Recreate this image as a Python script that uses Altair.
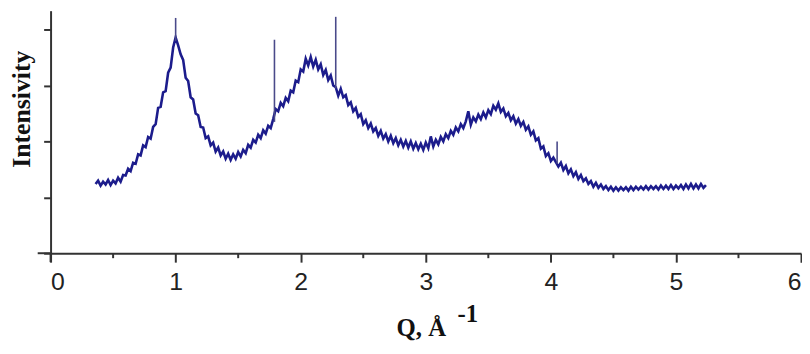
import altair as alt
import pandas as pd

# Q grid start / step (sampling positions of the measured curve)
q_start = 0.36
q_step = 0.02

# intensity (arbitrary units, 100 per y tick)
intensity = [
    124, 130, 121, 128, 123, 131, 122, 130, 125, 135,
    128, 140, 139, 151, 147, 162, 160, 177, 175, 193,
    190, 208, 205, 226, 231, 260, 262, 288, 290, 323,
    332, 368, 386, 372, 356, 346, 314, 308, 279, 275,
    250, 247, 226, 225, 206, 209, 193, 198, 182, 189,
    175, 182, 169, 178, 167, 177, 169, 181, 173, 185,
    179, 194, 189, 203, 198, 212, 206, 220, 214, 228,
    224, 240, 258, 254, 269, 263, 278, 272, 291, 288,
    309, 306, 329, 325, 348, 336, 351, 334, 346, 329,
    338, 319, 328, 310, 318, 300, 297, 282, 294, 279,
    283, 265, 270, 254, 260, 244, 249, 231, 238, 224,
    232, 218, 224, 210, 219, 205, 213, 200, 210, 197,
    206, 193, 203, 191, 201, 189, 200, 187, 197, 186,
    196, 185, 198, 188, 209, 191, 203, 195, 208, 200,
    213, 206, 219, 212, 225, 218, 231, 224, 236, 254,
    230, 243, 236, 248, 240, 252, 243, 256, 249, 264,
    257, 268, 253, 259, 245, 251, 238, 245, 232, 240,
    228, 235, 221, 227, 212, 218, 202, 206, 187, 191,
    174, 179, 165, 171, 163, 155, 162, 149, 156, 143,
    150, 138, 145, 133, 140, 129, 134, 124, 129, 119,
    126, 117, 123, 115, 120, 113, 119, 112, 118, 112,
    118, 113, 118, 112, 119, 113, 119, 114, 119, 114,
    120, 114, 120, 115, 120, 114, 121, 115, 121, 115,
    122, 115, 121, 116, 122, 115, 123, 116, 124, 116,
    123, 116, 124, 117, 122,
]
q_values = [round(q_start + q_step * i, 2) for i in range(len(intensity))]

# narrow spikes
spike_q = [1.00, 1.79, 2.28, 4.05]
spike_lo = [380, 235, 295, 160]
spike_hi = [421, 382, 423, 200]

x_ticks = [0, 1, 2, 3, 4, 5, 6]
x_minor = [0.5, 1.5, 2.5, 3.5, 4.5, 5.5]
y_ticks = [0, 100, 200, 300, 400]

W, H = 758, 245
AX = "#333333"
LINE = "#1c1c8c"

df = pd.DataFrame({"q": q_values, "I": intensity})
spikes = pd.DataFrame({"q": spike_q, "lo": spike_lo, "hi": spike_hi})
minor = pd.DataFrame({"q": x_minor})
one = pd.DataFrame({"t": ["-1"]})

xscale = alt.Scale(domain=[0, 6], nice=False, zero=False)
yscale = alt.Scale(domain=[0, 434], nice=False)

line = alt.Chart(df).mark_line(color=LINE, strokeWidth=2.6, clip=True).encode(
    x=alt.X("q:Q", scale=xscale,
            axis=alt.Axis(values=x_ticks, format="d", tickSize=9, tickWidth=2,
                          domainWidth=2, domainColor=AX, tickColor=AX,
                          labelFont="Liberation Sans", labelFontSize=25,
                          labelColor="#222222", labelPadding=8, grid=False,
                          title="Q, Å", titleFont="Liberation Serif",
                          titleFontWeight="bold", titleFontSize=25,
                          titleColor="#111111", titleX=374, titleY=83,
                          titleAlign="center", titleBaseline="alphabetic")),
    y=alt.Y("I:Q", scale=yscale,
            axis=alt.Axis(values=y_ticks, labels=False, tickSize=7, tickWidth=2,
                          domainWidth=2, domainColor=AX, tickColor=AX, grid=False,
                          title="Intensivity", titleFont="Liberation Serif",
                          titleFontWeight="bold", titleFontSize=26,
                          titleColor="#111111", titleX=-29, titleY=99,
                          titleAngle=270, titleAlign="center",
                          titleBaseline="middle")),
)

spike_layer = alt.Chart(spikes).mark_rule(color="#4a4a8a", strokeWidth=1.6).encode(
    x=alt.X("q:Q", scale=xscale),
    y=alt.Y("lo:Q", scale=yscale),
    y2="hi:Q",
)

minor_layer = alt.Chart(minor).mark_rule(color=AX, strokeWidth=2).encode(
    x=alt.X("q:Q", scale=xscale),
    y=alt.value(H),
    y2=alt.value(H + 5),
)

ext_x = alt.Chart(one).mark_rule(color=AX, strokeWidth=2).encode(
    x=alt.value(-13), x2=alt.value(0), y=alt.value(H))
ext_y = alt.Chart(one).mark_rule(color=AX, strokeWidth=2).encode(
    x=alt.value(0), y=alt.value(H), y2=alt.value(H + 9))

sup = alt.Chart(one).mark_text(
    align="left", baseline="alphabetic", font="Liberation Serif",
    fontWeight="bold", fontSize=25, color="#111111"
).encode(text="t:N", x=alt.value(411), y=alt.value(314))

chart = alt.layer(line, spike_layer, minor_layer, ext_x, ext_y, sup).properties(
    width=W, height=H,
    autosize=alt.AutoSizeParams(type="none"),
    padding={"left": 43, "top": 1, "right": 1, "bottom": 92},
    background="white",
).configure_view(stroke=None)

chart.save("out.html", embed_options={"renderer": "svg", "actions": False})
